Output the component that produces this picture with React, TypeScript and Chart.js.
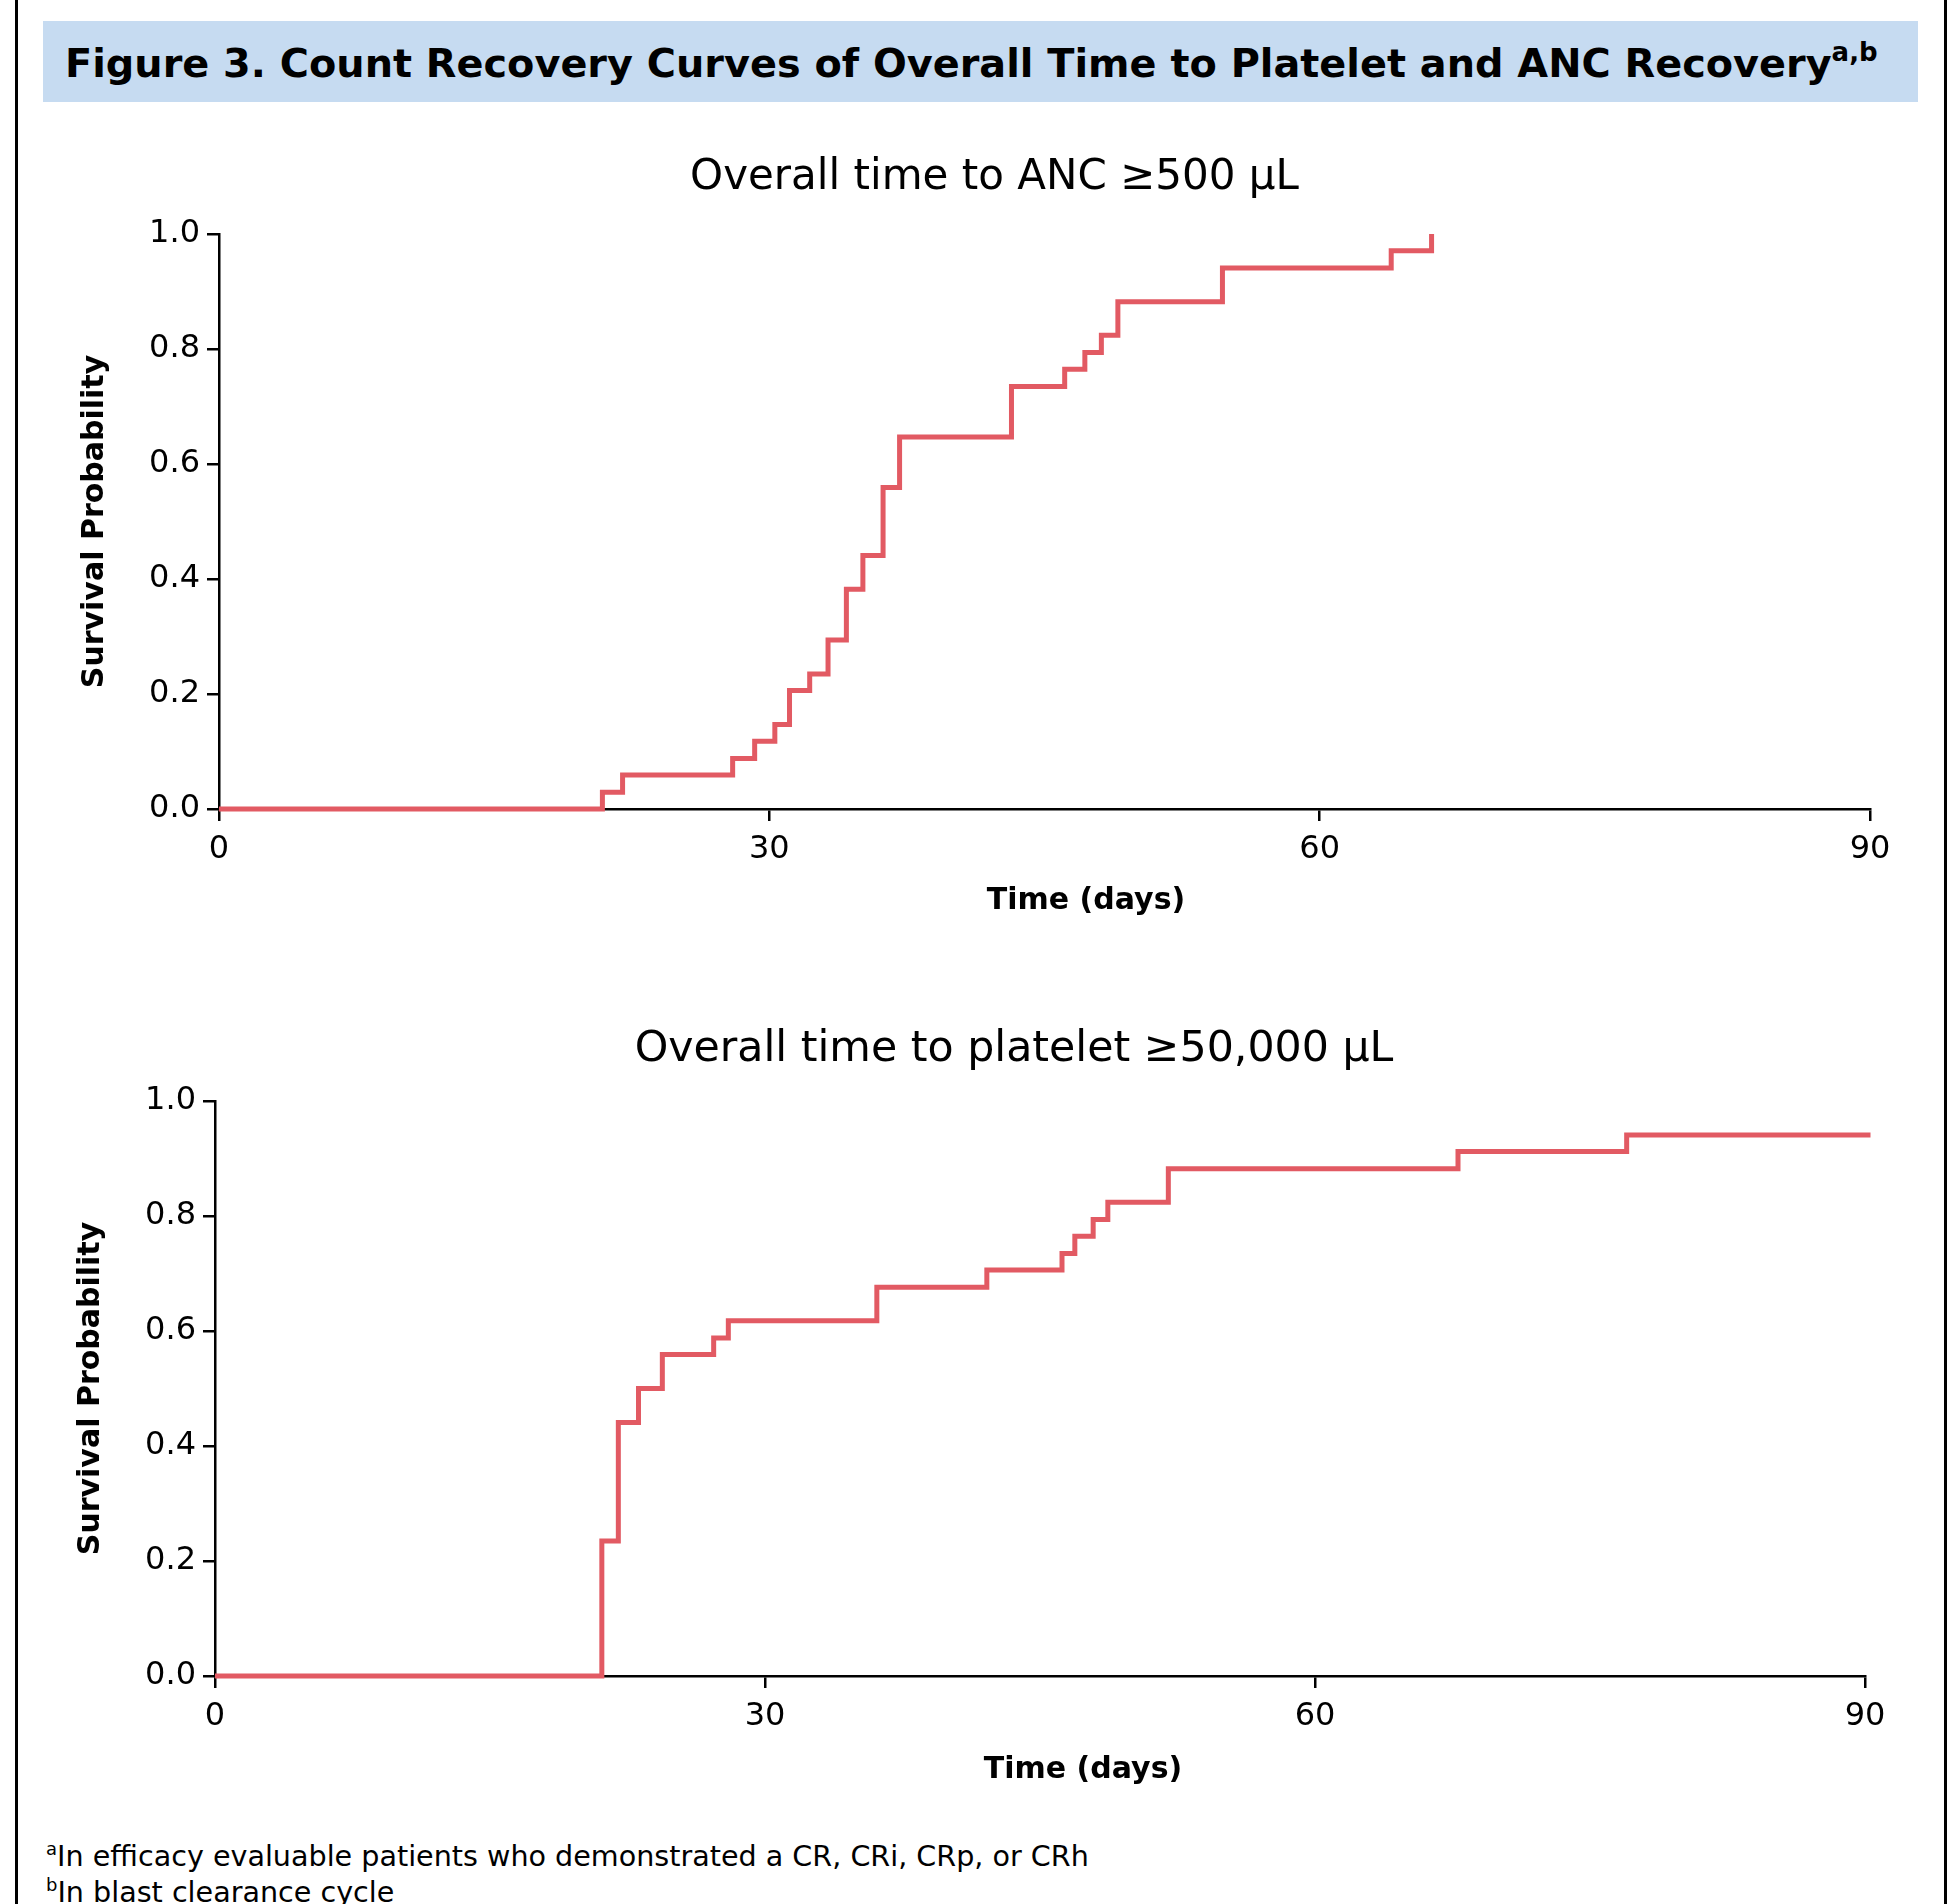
import React, { useEffect, useRef } from 'react';
import { Chart, registerables } from 'chart.js';

Chart.register(...registerables);

// ---------- data ----------
const FIGURE_TITLE = 'Figure 3. Count Recovery Curves of Overall Time to Platelet and ANC Recovery';
const FIGURE_TITLE_SUP = 'a,b';
const ANC_TITLE = 'Overall time to ANC ≥500 µL';
const PLT_TITLE = 'Overall time to platelet ≥50,000 µL';
const X_TITLE = 'Time (days)';
const Y_TITLE = 'Survival Probability';
const X_TICKS = [0, 30, 60, 90];
const Y_TICKS = [0, 0.2, 0.4, 0.6, 0.8, 1.0];

const ANC_DAYS = [0, 20.9, 22.0, 28.0, 29.2, 30.3, 31.1, 32.2, 33.2, 34.2, 35.1, 36.2, 37.1, 43.2, 46.1, 47.2, 48.1, 49.0, 54.7, 63.9, 66.1];
const ANC_PROB = [0, 0.029, 0.059, 0.088, 0.118, 0.147, 0.206, 0.235, 0.294, 0.382, 0.441, 0.559, 0.647, 0.735, 0.765, 0.794, 0.824, 0.882, 0.941, 0.971, 1.0];

const PLT_DAYS = [0, 21.1, 22.0, 23.1, 24.4, 27.2, 28.0, 36.1, 42.1, 46.2, 46.9, 47.9, 48.7, 52.0, 67.8, 77.0, 90.3];
const PLT_PROB = [0, 0.235, 0.441, 0.5, 0.559, 0.588, 0.618, 0.676, 0.706, 0.735, 0.765, 0.794, 0.824, 0.882, 0.912, 0.941, 0.941];

const FOOTNOTE_MARKS = ['a', 'b'];
const FOOTNOTE_TEXTS = [
  'In efficacy evaluable patients who demonstrated a CR, CRi, CRp, or CRh',
  'In blast clearance cycle',
];

// ---------- styles ----------
const FONT = '"DejaVu Sans", Verdana, sans-serif';
const RED = '#e25a63';
const PAGE_W = 1949;

type Layout = {
  canvasTop: number;
  canvasHeight: number;
  padTop: number;
  padLeft: number;
  padRight: number;
  yAxisWidth: number;
  xAxisHeight: number;
  yTitlePad: number;
  titleSize: number;
  titleDx: number;
  titleDy: number;
  xTitleDx: number;
  xTitleDy: number;
};

const TOP_LAYOUT: Layout = {
  canvasTop: 110,
  canvasHeight: 819,
  padTop: 124,
  padLeft: 40,
  padRight: 79,
  yAxisWidth: 179,
  xAxisHeight: 120,
  yTitlePad: 37,
  titleSize: 42,
  titleDx: -50,
  titleDy: -56,
  xTitleDx: 41.5,
  xTitleDy: 92,
};

const BOTTOM_LAYOUT: Layout = {
  canvasTop: 980,
  canvasHeight: 816,
  padTop: 121,
  padLeft: 40,
  padRight: 84,
  yAxisWidth: 175,
  xAxisHeight: 120,
  yTitlePad: 33,
  titleSize: 42.7,
  titleDx: -26,
  titleDy: -51.5,
  xTitleDx: 43,
  xTitleDy: 94.5,
};

// draws the panel title and the x-axis title, offset from the plot area centre
const panelTextPlugin = {
  id: 'panelText',
  afterDraw(chart: any, _args: any, opts: any) {
    const { ctx, chartArea } = chart;
    const cx = (chartArea.left + chartArea.right) / 2;
    ctx.save();
    ctx.fillStyle = '#000';
    ctx.textAlign = 'center';
    ctx.textBaseline = 'middle';
    ctx.font = `normal ${opts.titleSize}px ${FONT}`;
    ctx.fillText(opts.title, cx + opts.titleDx, chartArea.top + opts.titleDy);
    ctx.font = `bold 30px ${FONT}`;
    ctx.fillText(opts.xTitle, cx + opts.xTitleDx, chartArea.bottom + opts.xTitleDy);
    ctx.restore();
  },
};

function KMChart({ days, probs, title, layout }: { days: number[]; probs: number[]; title: string; layout: Layout }) {
  const ref = useRef<HTMLCanvasElement>(null);
  useEffect(() => {
    if (!ref.current) return;
    const tickFont = { family: FONT, size: 32, weight: 'normal' as const };
    const chart = new Chart(ref.current, {
      type: 'line',
      data: {
        datasets: [
          {
            data: days.map((d, i) => ({ x: d, y: probs[i] })),
            borderColor: RED,
            backgroundColor: RED,
            borderWidth: 5,
            stepped: true,
            pointRadius: 0,
            fill: false,
            clip: false as any,
            borderJoinStyle: 'miter',
          } as any,
        ],
      },
      options: {
        animation: false,
        responsive: false,
        maintainAspectRatio: false,
        events: [],
        layout: { padding: { left: layout.padLeft, right: layout.padRight, top: layout.padTop, bottom: 0 } },
        plugins: {
          legend: { display: false },
          tooltip: { enabled: false },
          title: { display: false },
          panelText: {
            title,
            titleSize: layout.titleSize,
            titleDx: layout.titleDx,
            titleDy: layout.titleDy,
            xTitle: X_TITLE,
            xTitleDx: layout.xTitleDx,
            xTitleDy: layout.xTitleDy,
          },
        } as any,
        scales: {
          x: {
            type: 'linear',
            min: 0,
            max: 90,
            afterBuildTicks: (s: any) => {
              s.ticks = X_TICKS.map((v) => ({ value: v }));
            },
            afterFit: (s: any) => {
              s.height = layout.xAxisHeight;
            },
            ticks: { font: tickFont, color: '#000', padding: 9, maxRotation: 0, autoSkip: false },
            grid: { drawOnChartArea: false, drawTicks: true, tickLength: 12, color: '#000', lineWidth: 2.5 },
            border: { display: true, color: '#000', width: 2.5 },
          },
          y: {
            type: 'linear',
            min: 0,
            max: 1,
            afterBuildTicks: (s: any) => {
              s.ticks = Y_TICKS.map((v) => ({ value: v }));
            },
            afterFit: (s: any) => {
              s.width = layout.yAxisWidth;
            },
            ticks: {
              font: tickFont,
              color: '#000',
              padding: 7,
              autoSkip: false,
              callback: (v: any) => Number(v).toFixed(1),
            },
            grid: { drawOnChartArea: false, drawTicks: true, tickLength: 12, color: '#000', lineWidth: 2.5 },
            border: { display: true, color: '#000', width: 2.5 },
            title: {
              display: true,
              text: Y_TITLE,
              color: '#000',
              font: { family: FONT, size: 30, weight: 'bold', lineHeight: 1.2 },
              padding: { top: layout.yTitlePad, bottom: 0 },
            },
          },
        },
      } as any,
      plugins: [panelTextPlugin as any],
    });
    return () => chart.destroy();
  }, []);
  return (
    <canvas
      ref={ref}
      width={PAGE_W}
      height={layout.canvasHeight}
      style={{ position: 'absolute', left: 0, top: layout.canvasTop, width: PAGE_W, height: layout.canvasHeight }}
    />
  );
}

export default function App() {
  return (
    <div
      style={{
        position: 'absolute',
        left: 0,
        top: 0,
        width: PAGE_W,
        height: 1904,
        overflow: 'hidden',
        background: '#fff',
        fontFamily: FONT,
        color: '#000',
      }}
    >
      <div
        style={{
          position: 'absolute',
          left: 15,
          top: -10,
          width: 1932,
          height: 1960,
          borderLeft: '3px solid #000',
          borderRight: '3px solid #000',
          boxSizing: 'border-box',
        }}
      />
      <div
        style={{
          position: 'absolute',
          left: 43,
          top: 21,
          width: 1875,
          height: 81,
          background: '#c6dbf1',
          fontWeight: 'bold',
          fontSize: 39.8,
          lineHeight: '81px',
          paddingLeft: 22,
          boxSizing: 'border-box',
          whiteSpace: 'nowrap',
        }}
      >
        <span style={{ position: 'relative', top: 2 }}>
          {FIGURE_TITLE}
          <sup style={{ fontSize: 26, lineHeight: 0, verticalAlign: '0.6em' }}>{FIGURE_TITLE_SUP}</sup>
        </span>
      </div>

      <KMChart days={ANC_DAYS} probs={ANC_PROB} title={ANC_TITLE} layout={TOP_LAYOUT} />
      <KMChart days={PLT_DAYS} probs={PLT_PROB} title={PLT_TITLE} layout={BOTTOM_LAYOUT} />

      <div
        style={{
          position: 'absolute',
          left: 46,
          top: 1838,
          fontSize: 28.6,
          lineHeight: '36px',
          whiteSpace: 'nowrap',
        }}
      >
        {FOOTNOTE_TEXTS.map((t, i) => (
          <div key={i}>
            <sup style={{ fontSize: 18, lineHeight: 0, verticalAlign: '0.6em' }}>{FOOTNOTE_MARKS[i]}</sup>
            {t}
          </div>
        ))}
      </div>
    </div>
  );
}
